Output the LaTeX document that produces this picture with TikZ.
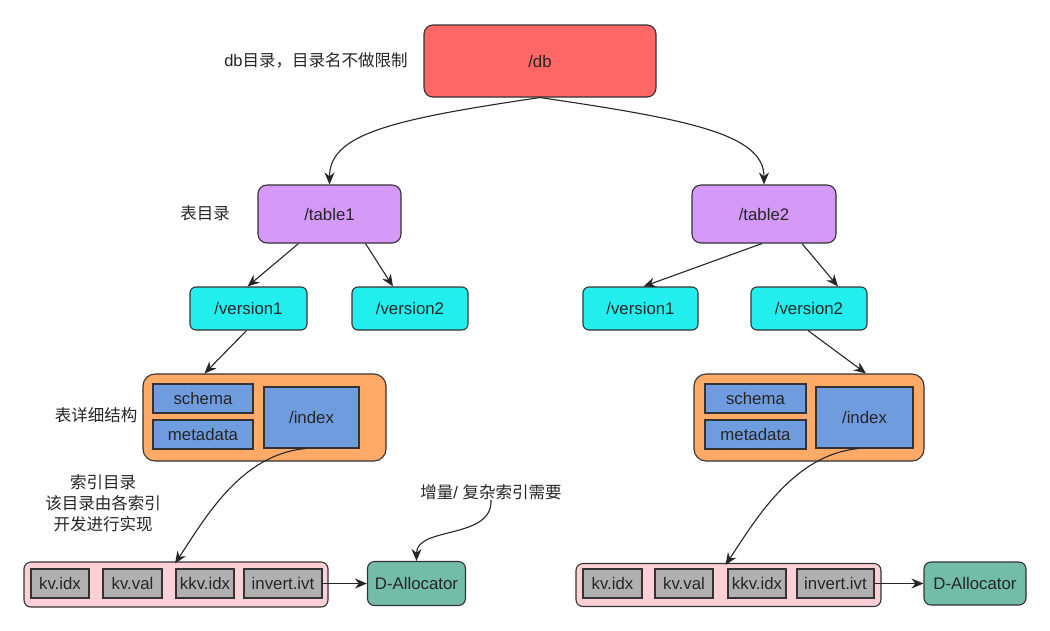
\documentclass[tikz,border=0pt]{standalone}
\usepackage{fontspec}
\setmainfont{Liberation Sans}
\newfontfamily\cjk{Noto Sans CJK SC}
\usetikzlibrary{arrows.meta}
\definecolor{dbred}{HTML}{FF6666}
\definecolor{tblpurple}{HTML}{D59AF8}
\definecolor{vercyan}{HTML}{22EEEE}
\definecolor{contorange}{HTML}{FFAA66}
\definecolor{innerblue}{HTML}{6F9BDF}
\definecolor{pinkbg}{HTML}{FCD0D6}
\definecolor{itemgray}{HTML}{B0B0B0}
\definecolor{allocgreen}{HTML}{72BCA8}
\definecolor{edgedark}{HTML}{333333}
\tikzset{
  base/.style={draw=edgedark, line width=1.1pt, font=\fontsize{16.8}{19}\selectfont, text=black!85, inner sep=0pt},
  rbox/.style={base, rounded corners=9pt},
  sbox/.style={base},
  lbl/.style={font=\fontsize{16.5}{21}\selectfont, text=black!85, align=center, inner sep=0pt},
  arr/.style={draw=black!85, line width=1.1pt, -{Stealth[length=12pt,width=10pt]}},
}
\begin{document}
\begin{tikzpicture}[x=1pt,y=-1pt]
\useasboundingbox[fill=white] (0,0) rectangle (1050,630);

% top
\node[rbox, fill=dbred, minimum width=232pt, minimum height=72pt] (db) at (540,61) {/db};
\node[lbl] (ldb) at (316,60) {db{\cjk 目录，目录名不做限制}};

% tables
\node[rbox, fill=tblpurple, minimum width=143pt, minimum height=58pt] (t1) at (329.5,214) {/table1};
\node[rbox, fill=tblpurple, minimum width=144pt, minimum height=58pt] (t2) at (764,214) {/table2};
\node[lbl] (lt) at (205,213) {\cjk 表目录};

% versions
\node[rbox, rounded corners=6pt, fill=vercyan, minimum width=117pt, minimum height=43pt] (v11) at (248.5,308.5) {/version1};
\node[rbox, rounded corners=6pt, fill=vercyan, minimum width=116pt, minimum height=43pt] (v12) at (410,308.5) {/version2};
\node[rbox, rounded corners=6pt, fill=vercyan, minimum width=115pt, minimum height=43pt] (v21) at (640.5,308.5) {/version1};
\node[rbox, rounded corners=6pt, fill=vercyan, minimum width=116pt, minimum height=43pt] (v22) at (809,308.5) {/version2};

% detail containers
\node[rbox, rounded corners=12pt, fill=contorange, minimum width=243pt, minimum height=87pt] (c1) at (264.5,417.5) {};
\node[sbox, fill=innerblue, minimum width=100pt, minimum height=29pt] (s1) at (203,398.5) {schema};
\node[sbox, fill=innerblue, minimum width=100pt, minimum height=29pt] (m1) at (203,434.5) {metadata};
\node[sbox, fill=innerblue, minimum width=95pt, minimum height=61pt] (i1) at (311.5,417.5) {/index};
\node[lbl] (ld) at (96,415) {\cjk 表详细结构};

\node[rbox, rounded corners=12pt, fill=contorange, minimum width=230pt, minimum height=87pt] (c2) at (809,417.5) {};
\node[sbox, fill=innerblue, minimum width=101pt, minimum height=29pt] (s2) at (755.5,398.5) {schema};
\node[sbox, fill=innerblue, minimum width=101pt, minimum height=29pt] (m2) at (755.5,434.5) {metadata};
\node[sbox, fill=innerblue, minimum width=97pt, minimum height=61pt] (i2) at (864.5,417.5) {/index};

% labels lower
\node[lbl, font=\cjk\fontsize{16.5}{21}\selectfont] (li) at (103,503) {索引目录\\该目录由各索引\\开发进行实现};
\node[lbl] (la) at (491,492) {{\cjk 增量}/ {\cjk 复杂索引需要}};

% index rows
\node[rbox, rounded corners=7pt, fill=pinkbg, minimum width=304pt, minimum height=45pt] (p1) at (176,584.5) {};
\node[sbox, fill=itemgray, minimum width=58pt, minimum height=29pt] (a1) at (60,583.5) {kv.idx};
\node[sbox, fill=itemgray, minimum width=59pt, minimum height=29pt] (b1) at (132.5,583.5) {kv.val};
\node[sbox, fill=itemgray, minimum width=58pt, minimum height=29pt] (k1) at (205,583.5) {kkv.idx};
\node[sbox, fill=itemgray, minimum width=78pt, minimum height=29pt] (n1) at (283,583.5) {invert.ivt};
\node[rbox, rounded corners=7pt, fill=allocgreen, minimum width=98pt, minimum height=44pt] (d1) at (416.5,583.5) {D-Allocator};

\node[rbox, rounded corners=7pt, fill=pinkbg, minimum width=305pt, minimum height=43pt] (p2) at (728.5,585) {};
\node[sbox, fill=itemgray, minimum width=59pt, minimum height=29pt] (a2) at (612.5,583.5) {kv.idx};
\node[sbox, fill=itemgray, minimum width=58pt, minimum height=29pt] (b2) at (684,583.5) {kv.val};
\node[sbox, fill=itemgray, minimum width=58pt, minimum height=29pt] (k2) at (757,583.5) {kkv.idx};
\node[sbox, fill=itemgray, minimum width=77pt, minimum height=29pt] (n2) at (835.5,583.5) {invert.ivt};
\node[rbox, rounded corners=7pt, fill=allocgreen, minimum width=102pt, minimum height=43pt] (d2) at (975,583.5) {D-Allocator};

% connectors
\draw[arr] (db.south) .. controls +(-150,22) and +(0,-50) .. (t1.north);
\draw[arr] (db.south) .. controls +(150,22) and +(0,-50) .. (t2.north);

\draw[arr] ([xshift=-31pt]t1.south) -- ([xshift=-1pt]v11.north);
\draw[arr] ([xshift=36pt]t1.south) -- ([xshift=-17pt]v12.north);
\draw[arr] ([xshift=-2pt]t2.south) -- ([xshift=3pt]v21.north);
\draw[arr] ([xshift=38pt]t2.south) -- ([xshift=29pt]v22.north);

\draw[arr] ([xshift=-2pt]v11.south) -- ([xshift=-60pt]c1.north);
\draw[arr] ([xshift=-1pt]v22.south) -- ([xshift=57pt]c2.north);

\draw[arr] ([xshift=-6pt]i1.south) .. controls +(-65,6) and +(30,-45) .. ([xshift=-1pt,yshift=-2pt]p1.north);
\draw[arr] ([xshift=-6pt]i2.south) .. controls +(-65,6) and +(30,-45) .. ([xshift=-3pt,yshift=-2pt]p2.north);

\draw[arr] (la.south) .. controls +(2,40) and +(0,-35) .. ([xshift=0pt]d1.north);

\draw[arr] (n1.east) -- (d1.west);
\draw[arr] (n2.east) -- (d2.west);
\end{tikzpicture}
\end{document}
